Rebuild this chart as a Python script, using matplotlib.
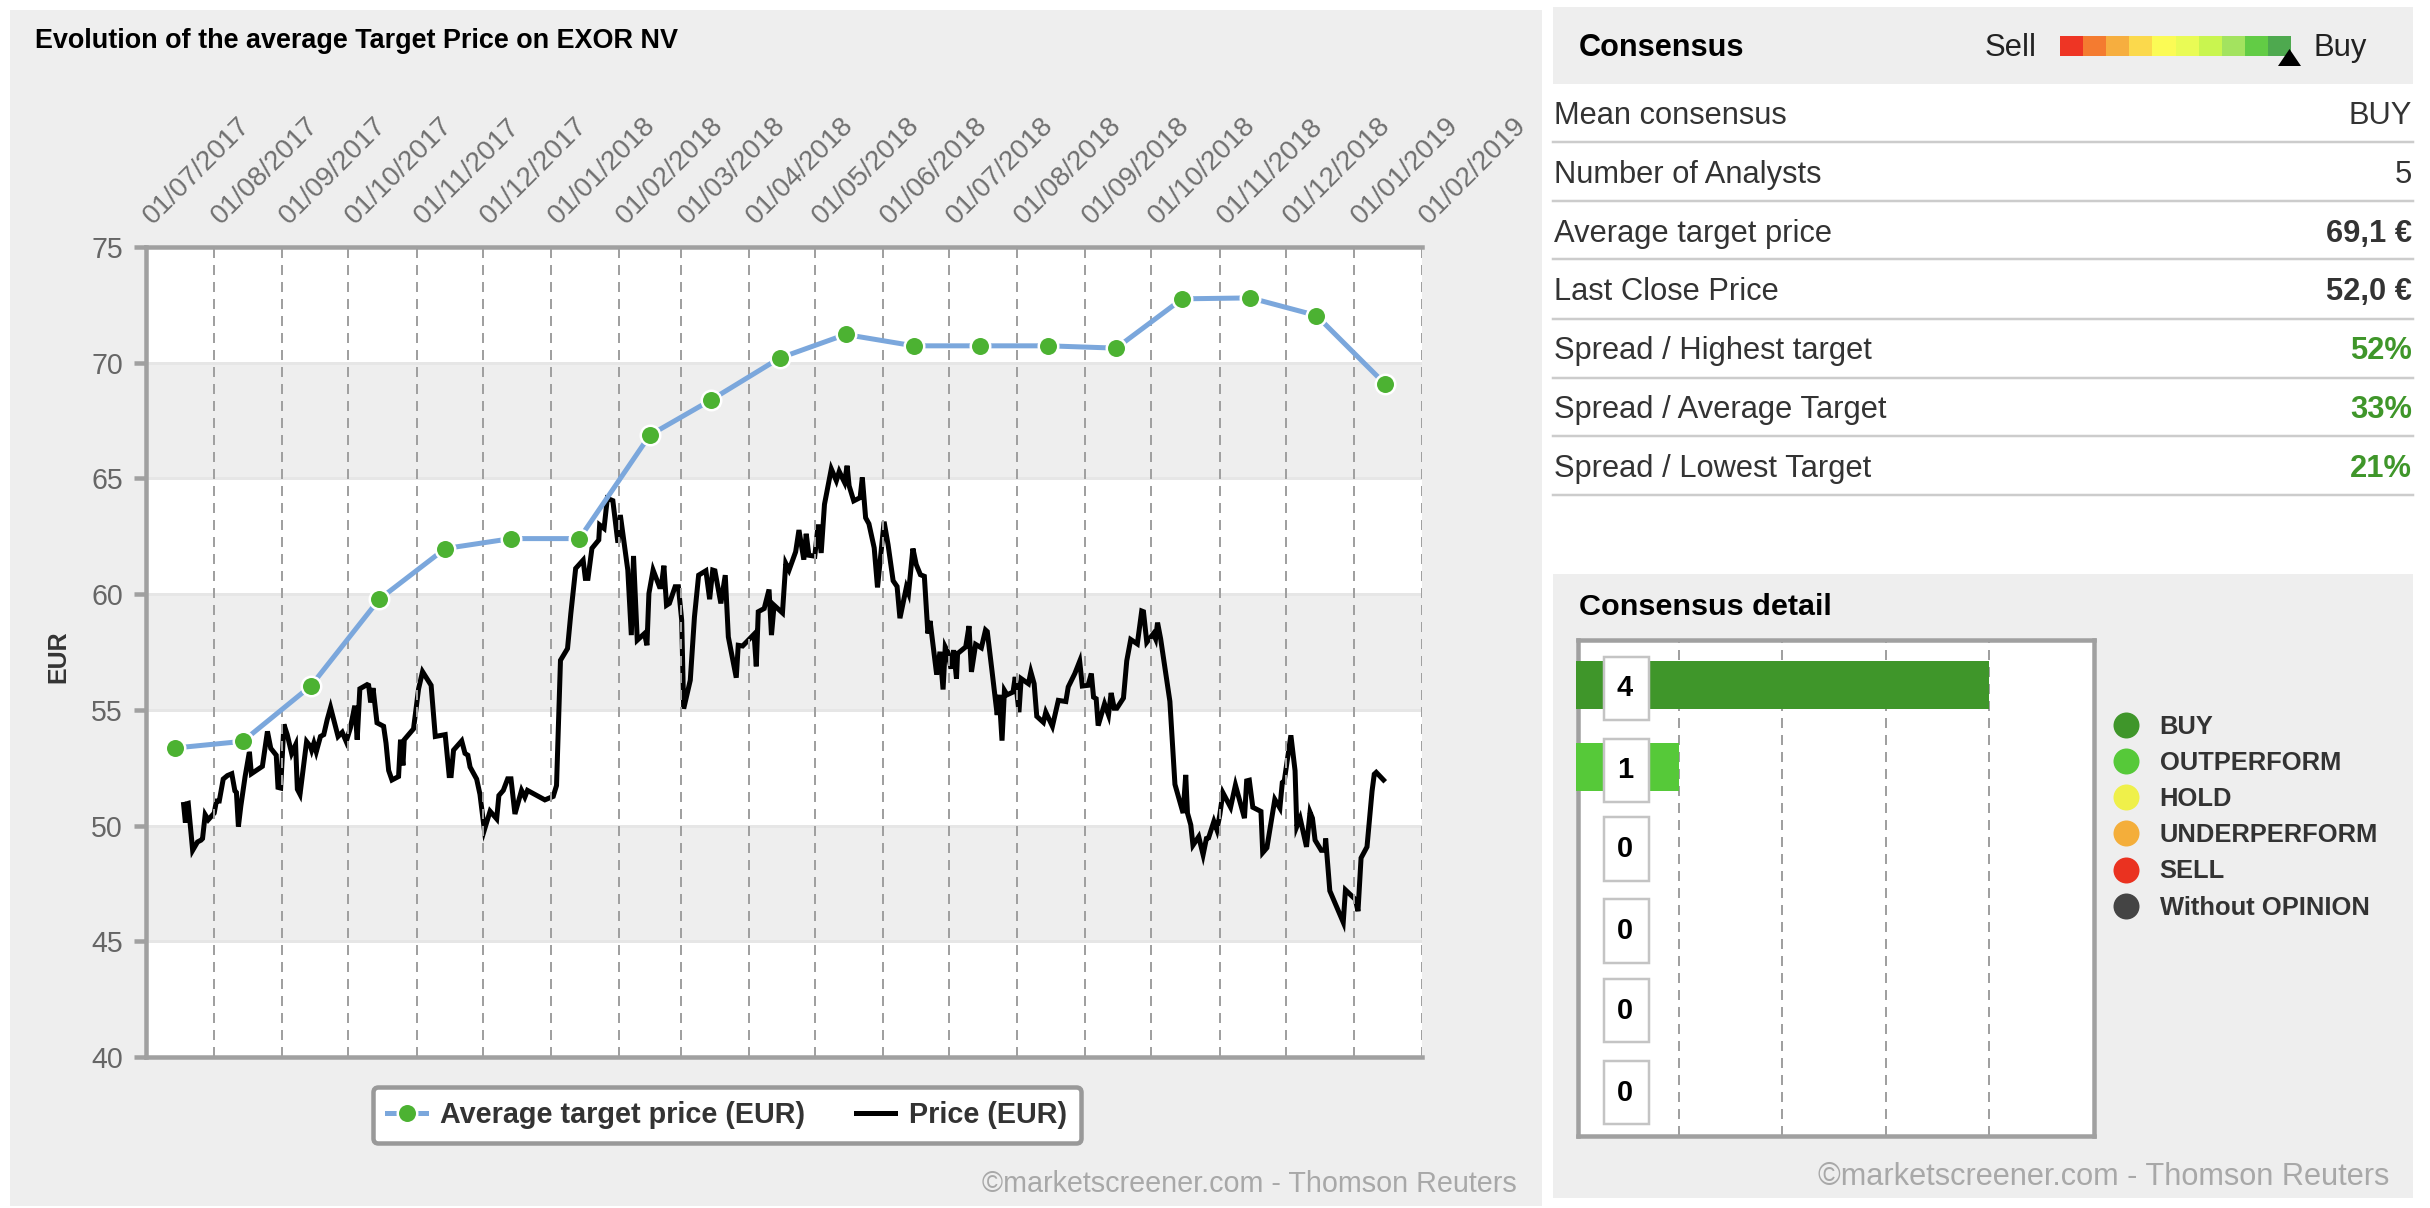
import matplotlib
matplotlib.use("Agg")
import matplotlib.pyplot as plt
import matplotlib.dates as mdates
from matplotlib.patches import Rectangle, Polygon
from matplotlib.lines import Line2D
from matplotlib.transforms import ScaledTranslation
from datetime import date

plt.rcParams['font.family'] = ['Liberation Sans', 'DejaVu Sans']

# ---------- data ----------
tick_dates = ["2017-07-01","2017-08-01","2017-09-01","2017-10-01","2017-11-01","2017-12-01",
              "2018-01-01","2018-02-01","2018-03-01","2018-04-01","2018-05-01","2018-06-01",
              "2018-07-01","2018-08-01","2018-09-01","2018-10-01","2018-11-01","2018-12-01",
              "2019-01-01","2019-02-01"]
target_dates = ["2017-07-14","2017-08-14","2017-09-14","2017-10-15","2017-11-14","2017-12-14",
                "2018-01-14","2018-02-15","2018-03-15","2018-04-15","2018-05-15","2018-06-15",
                "2018-07-15","2018-08-15","2018-09-15","2018-10-15","2018-11-15","2018-12-15",
                "2019-01-15"]
target_values = [53.35,53.64,56.04,59.78,61.97,62.4,62.4,66.87,68.4,70.2,71.22,70.73,70.73,70.73,
                 70.63,72.76,72.8,72.04,69.1]

price_days = [17.1,17.9,18.5,19.2,21.2,23.4,25,25.7,26.9,28.3,31,32,33.3,35.1,37,39,40.4,41.1,42,43.1,45,47,47.9,
 52.9,55.2,56.7,59.2,60,61.2,62.7,64.2,66.2,68,68.8,70,73,74.8,75.3,76.3,77.4,79.3,80.8,82.4,83.9,85.7,87.3,89.2,91,
 92.9,94.9,96,97.2,100.5,101.2,102.1,103.2,105,108,109.1,110.3,111.8,114.8,115.7,116.8,117.4,121.6,123.9,125.7,129.6,
 131.5,136,137.8,138.7,139.8,143.5,145,146.3,147.3,150.3,151.8,153.8,156.4,
 159.4,160.4,162.4,164.4,165.9,167.7,170.7,172.2,173.4,180.5,181.3,185.1,186.6,188.4,191.6,193.1,195.3,198.7,199.7,
 200.9,202.7,205.8,206.2,208.2,209.7,212.2,214.5,215.6,219,220.6,221.6,223.3,226.6,227.7,228.6,230.5,233.4,234.2,
 235.4,236.6,237.9,240.5,242,243.5,244.4,247.4,249.3,251.2,254.5,256.2,257.6,258.6,261.3,263.3,264.7,268.3,269.2,
 271.2,276.4,277.4,278.3,281,283.2,284.3,285.5,289.3,290.8,292.3,295.3,296.8,
 299,300.1,301.3,304,305.5,306.9,308.4,311.5,313.8,315.1,317.5,318.7,319.6,321.7,324.6,325.6,327.1,328.6,331,332.5,
 335.5,337.3,339.6,341.4,342.7,345.6,346.6,348.6,350.1,352,353.8,355.4,356.4,359.4,360.9,362.3,363.3,364.4,365.9,
 367.1,368.4,368.9,372.6,374.1,375.2,377.1,379.7,381.6,382.4,384.6,386.9,387.8,389.1,390.2,391.4,394.1,395.1,396.8,
 397.8,401.1,402.2,403.7,404.9,407.9,409,412,414.7,418.1,419.2,422.2,424.4,425.6,428.2,429.7,430.7,431.9,432.8,435.7,
 437.5,438.7,440.1,441.3,444.3,445.8,447.6,450.6,452.6,453.4,454.9,457.9,458.9,459.8,461.2,465.4,467.7,471.4,472.6,
 473.4,474.9,475.9,478.5,480.5,482,483,485.4,486.8,488.1,489.5,493,495.2,499.3,500.3,501.5,503.1,506.8,507.6,509.5,
 513.1,515.4,516.5,517.4,520.4,522.3,523.1,524.6,527.5,529.1,530.2,531.4,534.2,535.9,536.2,538.1,544.2,545.2,549.7,
 550.9,552.3,555,557.3,558.3,559.2,562.5]
price_values = [50.91,50.13,50.94,50.96,48.93,49.29,49.37,49.44,50.47,50.25,50.54,51.06,51.06,52.01,52.16,52.24,51.5,
 51.43,49.96,50.84,52.09,53.19,52.24,52.56,54.07,53.34,53.04,51.65,51.62,54.37,53.93,53.12,53.49,51.57,51.35,53.63,
 53.41,53.26,53.56,53.19,53.85,53.93,54.59,55.1,54.44,53.85,54.03,53.63,54.22,55.18,53.71,55.91,56.09,56.06,55.32,
 55.94,54.44,54.29,53.56,52.38,51.97,52.12,53.71,52.6,53.71,54.18,55.91,56.65,56.06,53.85,53.93,52.16,52.16,53.26,
 53.66,53.12,53.04,52.53,52.01,51.35,49.81,50.62,
 50.29,51.3,51.52,52.02,52.02,50.5,51.52,51.23,51.52,51.15,51.11,51.26,51.73,57.14,57.65,59.16,61.11,61.47,60.68,
 60.68,61.98,62.34,62.99,62.84,64.14,64.04,62.22,63.42,61.04,58.23,61.65,58.01,58.3,57.79,60.03,61.04,60.32,60.32,
 61.23,59.52,59.6,60.32,60.32,58.87,55.05,56.28,59.02,60.82,61.01,59.78,61.04,61.01,59.6,60.82,58.15,56.39,57.79,
 57.76,58.27,56.88,59.24,59.38,60.2,58.23,59.52,59.19,61.33,61.04,61.83,62.77,
 61.49,62.61,61.68,61.64,63.01,61.78,63.88,65.41,64.9,65.3,64.83,65.55,64.68,64.03,64.17,65.04,63.3,63.04,62,60.29,
 63.13,62.14,60.58,60.33,58.96,60.29,60.04,61.97,61.28,60.84,60.77,58.3,58.84,56.52,57.51,55.88,57.72,57.51,56.78,
 57.58,56.35,57.43,57.72,58.62,56.64,57.83,57.68,58.45,58.38,56.64,54.78,55.65,53.67,55.84,55.65,55.77,56.42,54.9,
 56.35,56.13,56.64,56.13,54.72,54.46,54.9,54.29,55.41,55.36,55.99,56.57,57.1,56.03,56.06,56.57,55.55,55.48,54.32,55.26,
 54.78,55.73,55.07,55.07,55.51,57.12,58.04,57.85,59.27,59.24,57.92,58.29,58.07,58.77,58.07,55.37,51.78,50.54,52.19,
 50.54,50.03,49.15,49.52,48.74,49.44,49.47,50.18,49.81,50.47,51.42,50.79,51.75,50.32,51.93,51.96,50.79,50.61,48.83,49.04,
 51.13,50.76,51.86,51.93,53.9,52.37,49.96,50.32,49.08,50.58,50.32,49.37,48.93,48.93,49.44,47.18,45.82,47.22,46.81,
 46.3,48.6,49.08,51.49,52.22,52.3,51.97]

y_ticks = [40,45,50,55,60,65,70,75]
bands = [(45,50),(55,60),(65,70)]

row_labels = ["Mean consensus","Number of Analysts","Average target price","Last Close Price",
              "Spread / Highest target","Spread / Average Target","Spread / Lowest Target"]
row_values = ["BUY","5","69,1 €","52,0 €","52%","33%","21%"]
row_bold   = [False,False,True,True,True,True,True]
row_colors = ["#333333","#333333","#333333","#333333","#3f962a","#3f962a","#3f962a"]

gauge_colors = ["#ee3524","#f47b30","#f6ae3f","#fbd94c","#fbfb55","#e9fb55","#c9f54f","#a3e35f","#62cc45","#4ea94f"]

rating_labels = ["BUY","OUTPERFORM","HOLD","UNDERPERFORM","SELL","Without OPINION"]
rating_counts = [4,1,0,0,0,0]
rating_colors = ["#3f962a","#56c939","#eff04a","#f4ae3a","#ea3220","#444444"]

# ---------- layout helpers ----------
W, H = 2430, 1208
fig = plt.figure(figsize=(W/100, H/100), dpi=100, facecolor="white")
PANEL = "#eeeeee"; AXC = "#a0a0a0"
def fx(x): return x/W
def fy(y): return 1-y/H
def pt(px): return px*0.72
def axes_px(x0, y0, x1, y1):
    return fig.add_axes([fx(x0), fy(y1), (x1-x0)/W, (y1-y0)/H])
def panel(x0, y0, x1, y1):
    fig.add_artist(Rectangle((fx(x0), fy(y1)), (x1-x0)/W, (y1-y0)/H, transform=fig.transFigure,
                             facecolor=PANEL, edgecolor="none", zorder=-5))

panel(10,10,1542,1206)
panel(1553,7,2413,84)
panel(1553,574,2413,1198)

# ---------- main chart ----------
ax = axes_px(146,247,1422,1057)
base = mdates.date2num(date(2017,7,1))
to_num = lambda s: mdates.datestr2num(s)
xs_t = [to_num(d) for d in target_dates]
xs_p = [base+d for d in price_days]
ax.set_xlim(to_num(tick_dates[0]), to_num(tick_dates[-1]))
ax.set_ylim(40,75)
for lo,hi in bands:
    ax.axhspan(lo,hi,color=PANEL,lw=0,zorder=0)
for v in y_ticks[1:-1]:
    ax.axhline(v,color="#e6e6e6",lw=pt(3),zorder=0.5)
ax.set_xticks([to_num(d) for d in tick_dates])
ax.set_xticklabels([f"{d[8:]}/{d[5:7]}/{d[:4]}" for d in tick_dates])
ax.grid(axis="x",color="#a0a0a0",lw=pt(2),ls=(0,(5,3.5)),zorder=1)
ax.set_axisbelow(False)
price_line, = ax.plot(xs_p,price_values,color="black",lw=pt(5),solid_joinstyle="miter",zorder=2,label="Price (EUR)")
target_line, = ax.plot(xs_t,target_values,color="#7ba7dc",lw=pt(5),marker="o",ms=pt(19.5),mfc="#4cb232",
                       mec="white",mew=pt(2.5),zorder=3,label="Average target price (EUR)",clip_on=False)
ax.set_yticks(y_ticks)
ax.tick_params(axis="y",length=pt(12),width=pt(4.5),color=AXC,labelcolor="#666666",labelsize=pt(28.5),pad=pt(11))
ax.tick_params(axis="x",top=True,bottom=False,labeltop=True,labelbottom=False,length=0,labelcolor="#707070",labelsize=pt(27.8),pad=0)
off = ScaledTranslation(8/72,13/72,fig.dpi_scale_trans)
for lab in ax.get_xticklabels():
    lab.set_rotation(45); lab.set_ha("left"); lab.set_va("bottom"); lab.set_rotation_mode("anchor")
    lab.set_transform(lab.get_transform()+off)
for s in ("left","top","bottom"):
    ax.spines[s].set_color(AXC); ax.spines[s].set_linewidth(pt(4.5))
ax.spines["right"].set_visible(False)
ax.set_ylabel("EUR",fontsize=pt(25),fontweight="bold",color="#333333")
ax.yaxis.set_label_coords(fx(70),fy(657),transform=fig.transFigure)

leg = ax.legend(handles=[target_line,price_line],ncol=2,loc="center",bbox_to_anchor=(fx(727),fy(1115)),
                bbox_transform=fig.transFigure,fontsize=pt(28.7),frameon=True,fancybox=True,framealpha=1,
                facecolor="white",edgecolor="#999999",handlelength=1.36,handletextpad=0.5,columnspacing=1.75,
                borderpad=0.5,borderaxespad=0)
leg.get_frame().set_linewidth(pt(4.5))
for t in leg.get_texts():
    t.set_fontweight("bold"); t.set_color("#333333")

fig.text(fx(35),fy(41),"Evolution of the average Target Price on EXOR NV",fontsize=pt(27),fontweight="bold",
         color="black",va="center",ha="left")
fig.text(fx(1517),fy(1184),"©marketscreener.com - Thomson Reuters",fontsize=pt(28.8),color="#a8a8a8",va="center",ha="right")

# ---------- consensus table ----------
fig.text(fx(1579),fy(48),"Consensus",fontsize=pt(30.7),fontweight="bold",color="black",va="center")
fig.text(fx(2037),fy(48),"Sell",fontsize=pt(31),color="#222222",va="center",ha="right")
fig.text(fx(2314),fy(48),"Buy",fontsize=pt(31),color="#222222",va="center",ha="left")
gx0, gx1 = 2060, 2291
seg = (gx1-gx0)/len(gauge_colors)
for i,c in enumerate(gauge_colors):
    fig.add_artist(Rectangle((fx(gx0+i*seg),fy(56)),seg/W,20/H,transform=fig.transFigure,facecolor=c,edgecolor="none"))
fig.add_artist(Polygon([(fx(2278),fy(66)),(fx(2301),fy(66)),(fx(2289.5),fy(49))],closed=True,
                       transform=fig.transFigure,facecolor="black",edgecolor="none"))
row_centers = [116,175,234,292,351,410,469]
row_lines = [142,201,259,319,378,436,495]
for lab,val,b,c,yc,yl in zip(row_labels,row_values,row_bold,row_colors,row_centers,row_lines):
    fig.text(fx(1554),fy(yc),lab,fontsize=pt(30.9),color="#333333",va="center")
    fig.text(fx(2412),fy(yc),val,fontsize=pt(30.9),color=c,va="center",ha="right",fontweight="bold" if b else "normal")
    fig.add_artist(Line2D([fx(1553),fx(2413)],[fy(yl),fy(yl)],color="#cccccc",lw=pt(2.5),transform=fig.transFigure))

# ---------- consensus detail ----------
fig.text(fx(1579),fy(607),"Consensus detail",fontsize=pt(30.5),fontweight="bold",color="black",va="center")
bx = axes_px(1578,640,2094,1136)
px_unit = 103.25
x_left = 0.02
bx.set_xlim(x_left,x_left+(2094-1578)/px_unit)
bx.set_ylim(5.5,-0.549)
ypos = list(range(len(rating_counts)))
bars = bx.barh(ypos,rating_counts,height=0.59,color=rating_colors,left=0,zorder=3,clip_on=False)
bx.set_xticks([1,2,3,4])
bx.set_yticks([])
bx.tick_params(axis="x",length=0,labelbottom=False)
bx.grid(axis="x",color="#a0a0a0",lw=pt(2),ls=(0,(5,3.5)),zorder=1)
bx.set_axisbelow(True)
for s in bx.spines.values():
    s.set_color(AXC); s.set_linewidth(pt(4.5))
label_shift = [0.04,0.04,0,0,-0.03,-0.03]
for y,cnt,sh in zip(ypos,rating_counts,label_shift):
    yc = y+sh
    bx.add_patch(Rectangle((28/px_unit,yc-0.385),45/px_unit,0.77,facecolor="white",edgecolor="#c4c4c4",lw=pt(2.5),zorder=4))
    bx.text(49/px_unit,yc,str(cnt),fontsize=pt(29),fontweight="bold",color="black",ha="center",va="center",zorder=5)
handles = [Line2D([],[],ls="none",marker="o",ms=pt(26),mfc=c,mec="none",label=l) for c,l in zip(rating_colors,rating_labels)]
leg2 = fig.legend(handles=handles,loc="upper left",bbox_to_anchor=(fx(2108),fy(715)),frameon=False,fontsize=pt(25.5),
                  labelspacing=0.475,handlelength=1.4,handletextpad=0.62,borderpad=0,borderaxespad=0)
for t in leg2.get_texts():
    t.set_fontweight("bold"); t.set_color("#333333")
fig.text(fx(2389),fy(1177),"©marketscreener.com - Thomson Reuters",fontsize=pt(30.8),color="#a8a8a8",va="center",ha="right")

fig.savefig("out.png",dpi=100,facecolor="white")
